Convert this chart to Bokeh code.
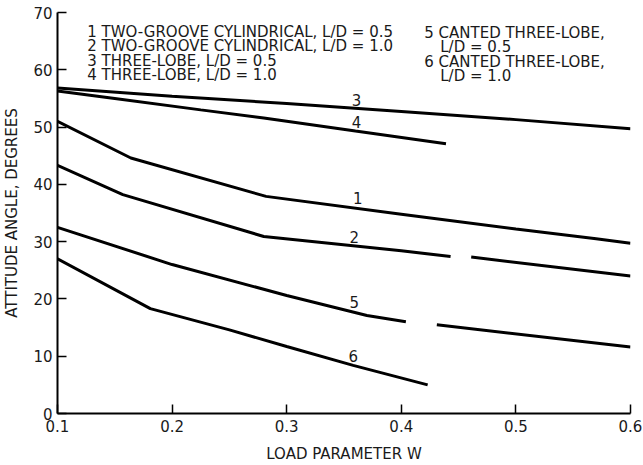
import math
import numpy as np
from bokeh.plotting import figure
from bokeh.models import Label, FixedTicker, Range1d
from bokeh.embed import file_html
from bokeh.resources import INLINE

NAN = float("nan")

# ---- data ----
x_ticks = [0.1, 0.2, 0.3, 0.4, 0.5, 0.6]
y_ticks = [0, 10, 20, 30, 40, 50, 60, 70]

c1_x = [0.1, 0.164, 0.282, 0.4, 0.5, 0.57, 0.6]
c1_y = [51.0, 44.6, 37.9, 34.8, 32.2, 30.5, 29.7]

c2_x = [0.1, 0.157, 0.28, 0.4, 0.443, NAN, 0.461, 0.6]
c2_y = [43.3, 38.2, 30.9, 28.4, 27.4, NAN, 27.3, 24.0]

c3_x = [0.1, 0.2, 0.3, 0.4, 0.5, 0.6]
c3_y = [56.8, 55.4, 54.1, 52.7, 51.3, 49.7]

c4_x = [0.1, 0.15, 0.225, 0.28, 0.36, 0.439]
c4_y = [56.3, 55.0, 53.0, 51.6, 49.3, 47.1]

c5_x = [0.1, 0.2, 0.3, 0.37, 0.404, NAN, 0.431, 0.6]
c5_y = [32.5, 26.0, 20.6, 17.1, 16.0, NAN, 15.5, 11.6]

c6_x = [0.1, 0.181, 0.25, 0.3, 0.358, 0.423]
c6_y = [27.0, 18.3, 14.6, 11.7, 8.4, 5.0]

curve_names = ["1", "2", "3", "4", "5", "6"]
curve_label_x = [0.362, 0.359, 0.361, 0.361, 0.359, 0.358]
curve_label_y = [37.6, 30.8, 54.8, 50.8, 19.5, 10.1]

legend_left = ["1 TWO-GROOVE CYLINDRICAL, L/D = 0.5",
               "2 TWO-GROOVE CYLINDRICAL, L/D = 1.0",
               "3 THREE-LOBE, L/D = 0.5",
               "4 THREE-LOBE, L/D = 1.0"]
legend_right = ["5 CANTED THREE-LOBE,",
                "L/D = 0.5",
                "6 CANTED THREE-LOBE,",
                "L/D = 1.0"]

x_title = "LOAD PARAMETER W"
y_title = "ATTITUDE ANGLE, DEGREES"

FONT = "DejaVu Sans"
FS = "15px"
INK = "#1a1a1a"

p = figure(width=643, height=465, output_backend="svg", toolbar_location=None,
           x_range=Range1d(0.1, 0.6), y_range=Range1d(0, 70),
           min_border_left=57, min_border_right=13, min_border_top=12,
           min_border_bottom=49,
           x_axis_label=x_title, y_axis_label=y_title)
p.outline_line_color = None
p.grid.visible = False
p.background_fill_color = "white"
p.border_fill_color = "white"

for ax, ticks in ((p.xaxis, x_ticks), (p.yaxis, y_ticks)):
    ax.ticker = FixedTicker(ticks=ticks)
    ax.axis_line_width = 2
    ax.axis_line_color = "black"
    ax.major_tick_in = 9
    ax.major_tick_out = 0
    ax.major_tick_line_width = 1.5
    ax.major_tick_line_color = "black"
    ax.minor_tick_line_color = None
    ax.major_label_text_font = FONT
    ax.major_label_text_font_size = FS
    ax.major_label_text_color = INK
    ax.axis_label_text_font = FONT
    ax.axis_label_text_font_size = FS
    ax.axis_label_text_font_style = "normal"
    ax.axis_label_text_color = INK
p.xaxis.major_label_standoff = 6
p.yaxis.major_label_standoff = 5
p.xaxis.axis_label_standoff = 10
p.yaxis.axis_label_standoff = 9

for xs, ys in ((c1_x, c1_y), (c2_x, c2_y), (c3_x, c3_y),
               (c4_x, c4_y), (c5_x, c5_y), (c6_x, c6_y)):
    p.line(xs, ys, line_color="black", line_width=3)

for name, lx, ly in zip(curve_names, curve_label_x, curve_label_y):
    p.add_layout(Label(x=lx, y=ly, text=name, text_align="center",
                       text_baseline="middle", text_font=FONT,
                       text_font_size=FS, text_color=INK))

left_y = [66.6, 64.1, 61.6, 59.1]
right_y = [66.4, 63.9, 61.4, 58.9]
right_x = [0.420, 0.434, 0.420, 0.434]
for t, ly in zip(legend_left, left_y):
    p.add_layout(Label(x=0.126, y=ly, text=t, text_align="left",
                       text_baseline="alphabetic", text_font=FONT,
                       text_font_size=FS, text_color=INK))
for t, lx, ly in zip(legend_right, right_x, right_y):
    p.add_layout(Label(x=lx, y=ly, text=t, text_align="left",
                       text_baseline="alphabetic", text_font=FONT,
                       text_font_size=FS, text_color=INK))

open("out.html", "w").write(file_html(p, INLINE))
